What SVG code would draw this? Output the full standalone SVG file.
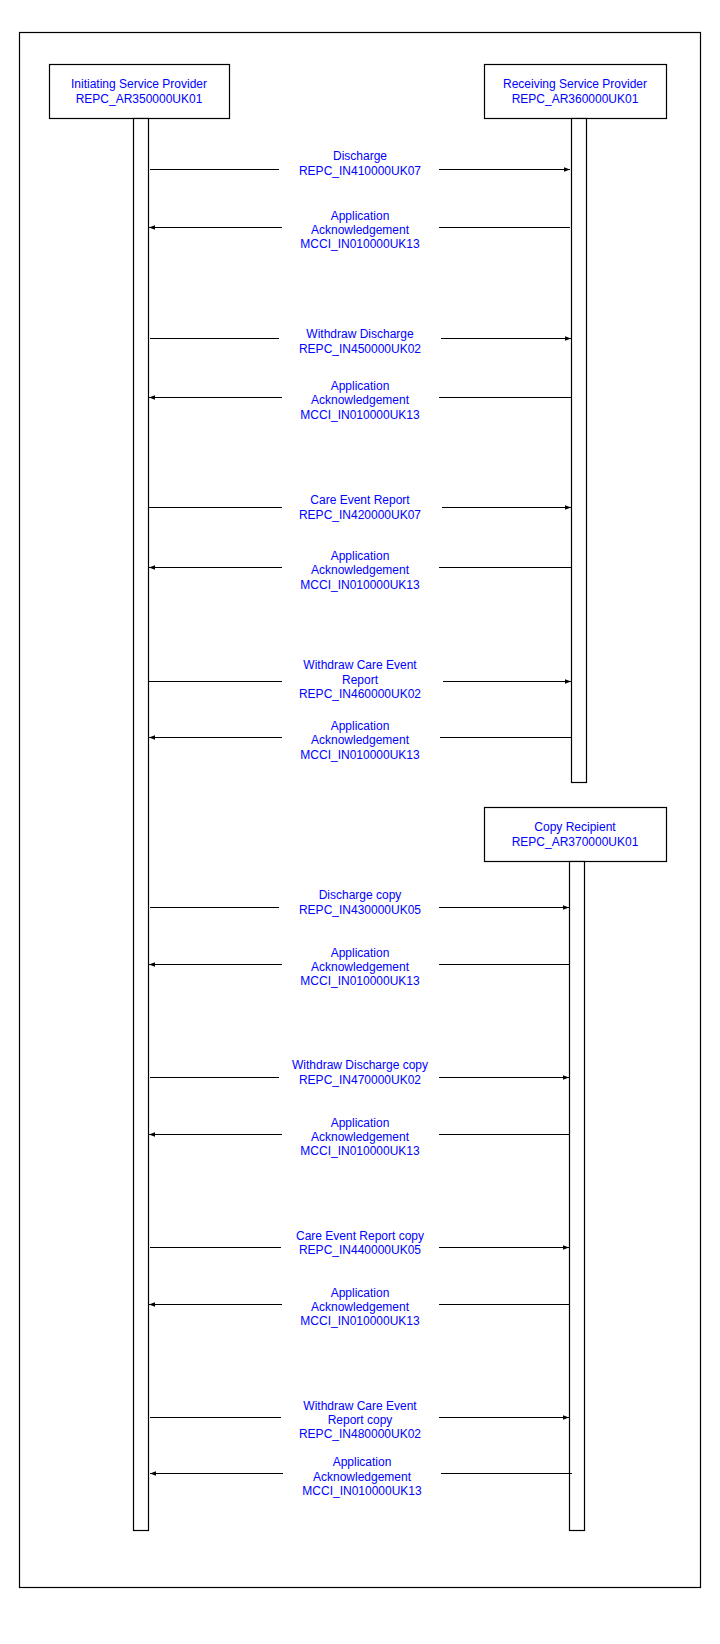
<svg xmlns="http://www.w3.org/2000/svg" width="720" height="1644" viewBox="0 0 720 1644">
<style>
.box{fill:#fff;stroke:#000;stroke-width:1.2}
.ln{stroke:#000;stroke-width:1.2;fill:none}
.t{font-family:"Liberation Sans",Arial,sans-serif;font-size:12px;fill:#0000ff;text-anchor:middle}
</style>
<defs>
<marker id="ah" viewBox="0 0 6 6" refX="6" refY="3" markerWidth="6" markerHeight="6" markerUnits="userSpaceOnUse" orient="auto">
<path d="M0,0.8 L6,3 L0,5.2 z" fill="#000"/>
</marker>
</defs>
<rect width="720" height="1644" fill="#fff"/>
<rect id="frame" x="19.5" y="32.5" width="681" height="1555" fill="none" stroke="#000" stroke-width="1.2"/>

<g id="initiating">
<rect class="box" x="49.5" y="64.5" width="180" height="54"/>
<text class="t" x="139" y="88">Initiating Service Provider</text>
<text class="t" x="139" y="103">REPC_AR350000UK01</text>
<rect class="box" x="133.5" y="118.5" width="15" height="1412"/>
</g>
<g id="receiving">
<rect class="box" x="484.5" y="64.5" width="182" height="54"/>
<text class="t" x="575" y="88">Receiving Service Provider</text>
<text class="t" x="575" y="103">REPC_AR360000UK01</text>
<rect class="box" x="571.5" y="118.5" width="15" height="664"/>
</g>
<g id="copy">
<rect class="box" x="484.5" y="807.5" width="182" height="54"/>
<text class="t" x="575" y="831">Copy Recipient</text>
<text class="t" x="575" y="845.5">REPC_AR370000UK01</text>
<rect class="box" x="569.5" y="861.5" width="15" height="669"/>
</g>

<g id="connectors">
<path class="ln" d="M150,169.5H279"/><path class="ln" d="M439,169.5H570" marker-end="url(#ah)"/>
<path class="ln" d="M570,227.5H439"/><path class="ln" d="M282,227.5H149" marker-end="url(#ah)"/>
<path class="ln" d="M150,338.5H279"/><path class="ln" d="M441,338.5H571" marker-end="url(#ah)"/>
<path class="ln" d="M571,397.5H439"/><path class="ln" d="M282,397.5H149" marker-end="url(#ah)"/>
<path class="ln" d="M149,507.5H282"/><path class="ln" d="M442,507.5H571" marker-end="url(#ah)"/>
<path class="ln" d="M571,567.5H439"/><path class="ln" d="M282,567.5H149" marker-end="url(#ah)"/>
<path class="ln" d="M149,681.5H282"/><path class="ln" d="M443,681.5H571" marker-end="url(#ah)"/>
<path class="ln" d="M571,737.5H440"/><path class="ln" d="M282,737.5H149" marker-end="url(#ah)"/>
<path class="ln" d="M150,907.5H279"/><path class="ln" d="M439,907.5H569" marker-end="url(#ah)"/>
<path class="ln" d="M569,964.5H439"/><path class="ln" d="M282,964.5H149" marker-end="url(#ah)"/>
<path class="ln" d="M150,1077.5H279"/><path class="ln" d="M439,1077.5H569" marker-end="url(#ah)"/>
<path class="ln" d="M569,1134.5H439"/><path class="ln" d="M282,1134.5H149" marker-end="url(#ah)"/>
<path class="ln" d="M150,1247.5H281"/><path class="ln" d="M439,1247.5H569" marker-end="url(#ah)"/>
<path class="ln" d="M569,1304.5H439"/><path class="ln" d="M282,1304.5H149" marker-end="url(#ah)"/>
<path class="ln" d="M150,1417.5H281"/><path class="ln" d="M439,1417.5H569" marker-end="url(#ah)"/>
<path class="ln" d="M572,1473.5H441"/><path class="ln" d="M283,1473.5H150" marker-end="url(#ah)"/>
</g>

<g id="labels">
<text class="t" x="360" y="160">Discharge</text>
<text class="t" x="360" y="175">REPC_IN410000UK07</text>
<text class="t" x="360" y="220">Application</text>
<text class="t" x="360" y="234">Acknowledgement</text>
<text class="t" x="360" y="248">MCCI_IN010000UK13</text>

<text class="t" x="360" y="338">Withdraw Discharge</text>
<text class="t" x="360" y="353">REPC_IN450000UK02</text>
<text class="t" x="360" y="390">Application</text>
<text class="t" x="360" y="404">Acknowledgement</text>
<text class="t" x="360" y="419">MCCI_IN010000UK13</text>

<text class="t" x="360" y="504">Care Event Report</text>
<text class="t" x="360" y="519">REPC_IN420000UK07</text>
<text class="t" x="360" y="560">Application</text>
<text class="t" x="360" y="574">Acknowledgement</text>
<text class="t" x="360" y="589">MCCI_IN010000UK13</text>

<text class="t" x="360" y="668.5">Withdraw Care Event</text>
<text class="t" x="360" y="683.5">Report</text>
<text class="t" x="360" y="698">REPC_IN460000UK02</text>
<text class="t" x="360" y="730">Application</text>
<text class="t" x="360" y="744">Acknowledgement</text>
<text class="t" x="360" y="758.5">MCCI_IN010000UK13</text>

<text class="t" x="360" y="899">Discharge copy</text>
<text class="t" x="360" y="914">REPC_IN430000UK05</text>
<text class="t" x="360" y="957">Application</text>
<text class="t" x="360" y="971">Acknowledgement</text>
<text class="t" x="360" y="985">MCCI_IN010000UK13</text>

<text class="t" x="360" y="1069">Withdraw Discharge copy</text>
<text class="t" x="360" y="1084">REPC_IN470000UK02</text>
<text class="t" x="360" y="1127">Application</text>
<text class="t" x="360" y="1141">Acknowledgement</text>
<text class="t" x="360" y="1155">MCCI_IN010000UK13</text>

<text class="t" x="360" y="1240">Care Event Report copy</text>
<text class="t" x="360" y="1254">REPC_IN440000UK05</text>
<text class="t" x="360" y="1297">Application</text>
<text class="t" x="360" y="1311">Acknowledgement</text>
<text class="t" x="360" y="1325">MCCI_IN010000UK13</text>

<text class="t" x="360" y="1409.5">Withdraw Care Event</text>
<text class="t" x="360" y="1424">Report copy</text>
<text class="t" x="360" y="1438">REPC_IN480000UK02</text>
<text class="t" x="362" y="1466">Application</text>
<text class="t" x="362" y="1481">Acknowledgement</text>
<text class="t" x="362" y="1494.5">MCCI_IN010000UK13</text>
</g>
</svg>
